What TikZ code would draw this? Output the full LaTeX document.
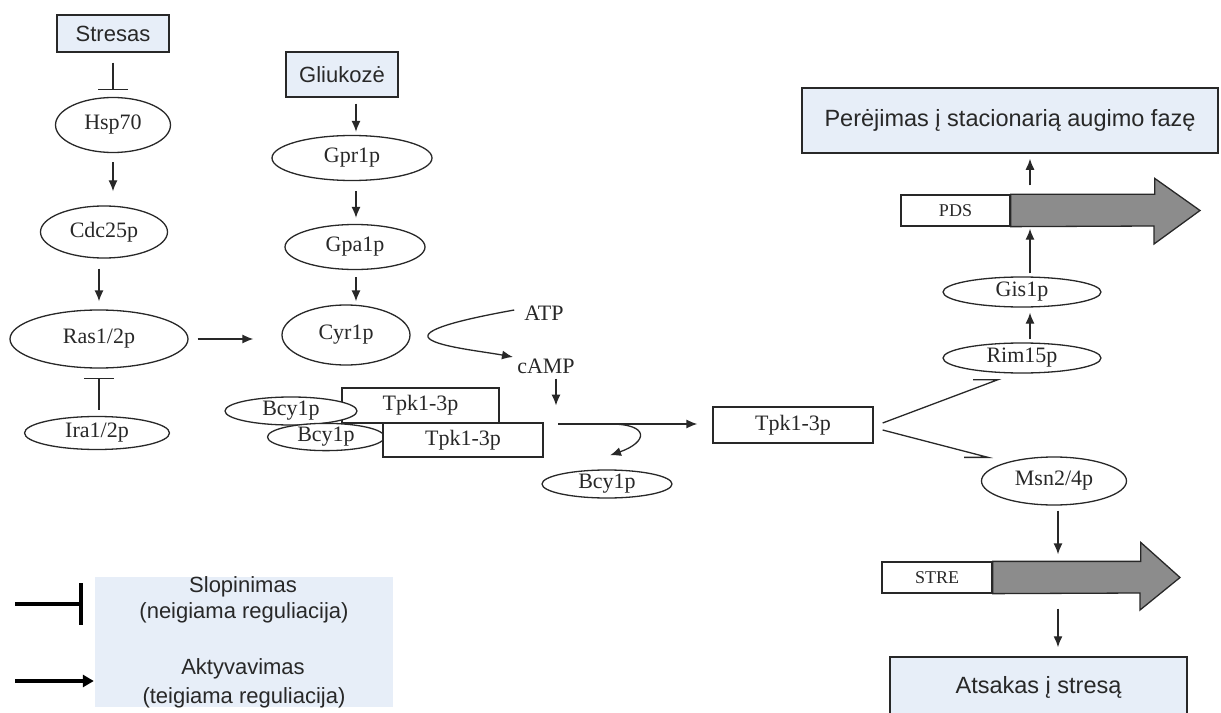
\documentclass[tikz,border=0pt]{standalone}
\usepackage{fontspec}
\setmainfont{Liberation Serif}
\newfontfamily\sansf{Liberation Sans}
\usetikzlibrary{shapes.geometric,arrows.meta}
\definecolor{lblue}{RGB}{231,238,248}
\definecolor{lgray}{RGB}{140,140,140}
\definecolor{ink}{RGB}{40,40,40}
\newcommand{\serfont}{\fontsize{22bp}{26bp}\selectfont}
\newcommand{\sanfont}{\sansf\fontsize{22bp}{26bp}\selectfont}
\tikzset{
  ell/.style={ellipse, draw=ink, line width=1.3bp, fill=white, inner sep=0pt, font=\serfont, text=ink},
  wbox/.style={rectangle, draw=ink, line width=1.3bp, fill=white, inner sep=0pt, font=\serfont, text=ink},
  bbox/.style={rectangle, draw=ink, line width=1.5bp, fill=lblue, inner sep=0pt, font=\sanfont, text=ink},
  conn/.style={draw=ink, line width=1.3bp},
  act/.style={conn, -{Latex[length=11bp,width=9bp]}},
  inh/.style={conn, -{Bar[width=30bp]}},
  gene/.style={draw=ink, line width=1.3bp, fill=lgray},
  lab/.style={font=\serfont, text=ink, inner sep=0pt},
  leg/.style={font=\sanfont, text=ink, inner sep=0pt}
}
\begin{document}
\begin{tikzpicture}[x=1bp,y=-1bp]
\useasboundingbox (0,0) rectangle (1221,713);
% left column
\node[bbox, minimum width=112bp, minimum height=37bp] (stresas) at (113,33.5) {Stresas};
\node[ell, minimum width=115bp, minimum height=55bp] (hsp) at (113,125) {Hsp70};
\node[ell, minimum width=127bp, minimum height=52bp] (cdc) at (104,232) {Cdc25p};
\node[ell, minimum width=178bp, minimum height=58bp] (ras) at (99,339) {Ras1/2p};
\node[ell, minimum width=145bp, minimum height=33bp] (ira) at (97,433) {Ira1/2p};
\draw[inh, shorten <=10bp, shorten >=7bp] (stresas) -- (hsp);
\draw[act, shorten <=9bp, shorten >=14bp] (hsp.south) -- (hsp.south |- cdc.north);
\draw[act, shorten <=10bp, shorten >=8bp] (ras.north |- cdc.south) -- (ras.north);
\draw[inh, shorten <=6bp, shorten >=9bp] (ira.north -| ras.south) -- (ras.south);
% glucose column
\node[bbox, minimum width=112bp, minimum height=45bp] (glu) at (342,74.5) {Gliukozė};
\node[ell, minimum width=160bp, minimum height=45bp] (gpr) at (352,158) {Gpr1p};
\node[ell, minimum width=140bp, minimum height=45bp] (gpa) at (355,247) {Gpa1p};
\node[ell, minimum width=128bp, minimum height=60bp] (cyr) at (346,335) {Cyr1p};
\draw[act, shorten <=6bp, shorten >=3bp] (glu.south -| gpr.north) ++(4,0) coordinate (g1) -- (g1 |- gpr.north);
\draw[act, shorten <=10bp, shorten >=6bp] ([xshift=4bp]gpr.south) -- ([xshift=4bp]gpr.south |- gpa.north);
\draw[act, shorten <=7bp, shorten >=3bp] ([xshift=1bp]gpa.south) -- ([xshift=1bp]gpa.south |- cyr.north);
\draw[act, shorten <=9bp, shorten >=28bp] (ras.east) -- (ras.east -| cyr.west);
% ATP / cAMP
\node[lab] (atp) at (544,313) {ATP};
\node[lab] (camp) at (546,366) {cAMP};
\draw[act] (atp.west) ++(-10,-3) coordinate (a0)
  .. controls (470,318) and (425,328) .. (428,337)
  .. controls (432,346) and (480,351) .. (513,357);
\draw[act, shorten <=5bp] ([xshift=10bp]camp.south) -- ++(0,32);
% complex
\node[wbox, minimum width=157bp, minimum height=35bp] (tpkA) at (420.5,405.5) {Tpk1-3p};
\node[ell, minimum width=132bp, minimum height=28bp] (bcyA) at (291,411) {Bcy1p};
\node[ell, minimum width=117bp, minimum height=27bp] (bcyB) at (326,437) {Bcy1p};
\node[wbox, minimum width=160bp, minimum height=34bp] (tpkB) at (463,440) {Tpk1-3p};
% activation of Tpk
\node[wbox, minimum width=160bp, minimum height=36bp] (tpk) at (793,425) {Tpk1-3p};
\coordinate (jstart) at (558,424);
\draw[act, shorten >=15bp] (jstart) -- (jstart -| tpk.west);
\node[ell, minimum width=130bp, minimum height=28bp] (bcyC) at (607,484) {Bcy1p};
\coordinate (rel) at (610,424);
\draw[act] (rel) .. controls (650,424) and (648,442) .. ([xshift=3bp,yshift=14bp]bcyC.north);
% right branch
\node[ell, minimum width=158bp, minimum height=30bp] (rim) at (1022,358) {Rim15p};
\node[ell, minimum width=158bp, minimum height=30bp] (gis) at (1022,292) {Gis1p};
\node[ell, minimum width=145bp, minimum height=48bp] (msn) at (1054,481) {Msn2/4p};
\draw[conn] ([xshift=9bp,yshift=2bp]tpk.east) -- ([xshift=-24bp,yshift=-6bp]rim.south) -- ++(-25,0);
\draw[conn] ([xshift=9bp,yshift=-5bp]tpk.east) -- ([xshift=-66bp,yshift=-1bp]msn.north) -- ++(-24,0);
% PDS gene
\node[wbox, minimum width=109bp, minimum height=31bp, font=\fontsize{18bp}{21bp}\selectfont] (pds) at (955.5,210.5) {PDS};
\path[gene] (pds.north east) -- ++(144,0) -- ++(0,-16) -- (1200,210.5) -- (1154,244) -- (1154,226) -- (pds.south east) -- cycle;
\node[bbox, minimum width=416bp, minimum height=65bp, font=\sansf\fontsize{23.5bp}{28bp}\selectfont] (per) at (1010,120.5) {Perėjimas į stacionarią augimo fazę};
\draw[act, shorten <=3bp, shorten >=5bp] ([xshift=8bp]rim.north) -- ([xshift=8bp]gis.south);
\draw[act, shorten <=3bp, shorten >=2bp] ([xshift=8bp]gis.north) -- ([xshift=8bp]gis.north |- pds.south);
\draw[act, shorten <=9bp, shorten >=5bp] ([xshift=8bp]gis.north |- pds.north) -- ([xshift=8bp]gis.north |- per.south);
% STRE gene
\node[wbox, minimum width=110bp, minimum height=31bp, font=\fontsize{18bp}{21bp}\selectfont] (stre) at (937,577.5) {STRE};
\path[gene] (stre.north east) -- ++(148,0) -- ++(0,-19) -- (1180,577.5) -- (1140,610) -- (1140,593) -- (stre.south east) -- cycle;
\node[bbox, minimum width=297bp, minimum height=60bp, font=\sansf\fontsize{23.5bp}{28bp}\selectfont] (ats) at (1038.5,687) {Atsakas į stresą};
\draw[act, shorten <=5bp, shorten >=7bp] ([xshift=4bp]msn.south) -- ([xshift=4bp]msn.south |- stre.north);
\draw[act, shorten <=15bp, shorten >=9bp] ([xshift=4bp]msn.south |- stre.south) -- ([xshift=4bp]msn.south |- ats.north);
% legend
\node[rectangle, fill=lblue, minimum width=298bp, minimum height=130bp, inner sep=0pt] (legbox) at (244,642) {};
\node[leg] (l1) at (243,587) {Slopinimas};
\node[leg] (l2) at (244,613) {(neigiama reguliacija)};
\node[leg] (l3) at (243,669) {Aktyvavimas};
\node[leg] (l4) at (244,698) {(teigiama reguliacija)};
\coordinate (li) at (15,604);
\coordinate (la) at (15,681);
\draw[black, line width=4bp, -{Bar[width=42bp]}] (li) -- ([xshift=-12bp]legbox.west |- li);
\draw[black, line width=4bp, -{Triangle[length=11bp,width=12bp]}] (la) -- ([xshift=-1bp]legbox.west |- la);
\end{tikzpicture}
\end{document}
